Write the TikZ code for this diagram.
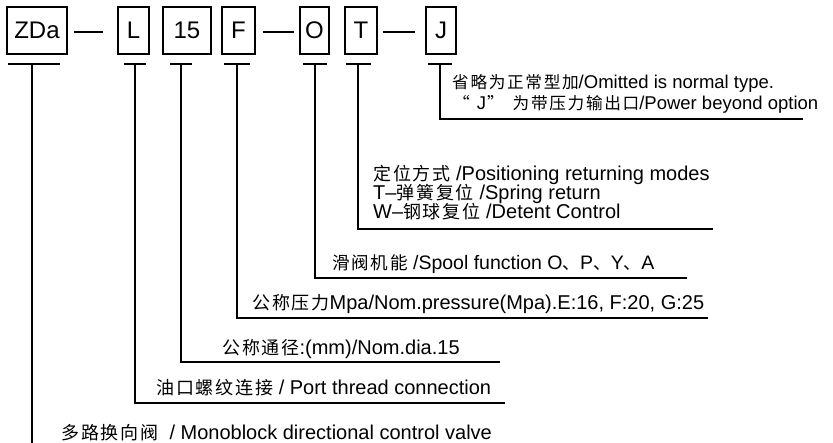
\documentclass[tikz,border=0pt]{standalone}
\usepackage{fontspec}
\setmainfont{Liberation Sans}
\newfontfamily\cjk[Scale=0.9, LetterSpace=10]{Noto Sans CJK SC}
\newcommand{\zh}[1]{{\cjk #1}}
\usetikzlibrary{positioning}

\begin{document}
\begin{tikzpicture}[x=1pt, y=-1pt,
    every node/.style={inner sep=0pt, font=\fontsize{20}{20}\selectfont},
    codebox/.style={draw, line width=1.1pt, minimum height=47pt, font=\fontsize{24}{24}\selectfont},
    lead/.style={line width=1.1pt},
    note/.style={anchor=base west, text height=13pt, text depth=3pt},
    small/.style={font=\fontsize{18.5}{18.5}\selectfont}
  ]
  \useasboundingbox (0,0) rectangle (833,443);
  \foreach \n/\cx/\w/\txt in {zda/37/60/ZDa, l/133.5/31/L, dia/187/48/15, f/238.5/33/F, o/314.5/29/O, t/361/32/T, j/441/30/J}{
    \node[codebox, minimum width=\w pt] (\n) at (\cx,30.5) {\txt};
  }
  \draw[lead] ([xshift=6pt,yshift=-1.5pt]zda.east) -- ([xshift=-14pt,yshift=-1.5pt]l.west);
  \draw[lead] ([xshift=7pt,yshift=-1.5pt]f.east) -- ([xshift=-5pt,yshift=-1.5pt]o.west);
  \draw[lead] ([xshift=5pt,yshift=-1.5pt]t.east) -- ([xshift=-10pt,yshift=-1.5pt]j.west);

  \coordinate (zda-top) at (32,64);
  \coordinate (zda-end) at (32,443);
  \draw[lead] ([xshift=-24pt]zda-top) -- ([xshift=28pt]zda-top);
  \draw[lead] (zda-top) -- (zda-end);
  \foreach \n/\sx/\ly/\ex/\hw in {l/135/403/505/11, dia/181/362/500/11, f/237/318/708/13, o/315/278/687/12, t/358/229/713/12.5, j/440/119/803/12}{
    \coordinate (\n-top) at (\sx,64);
    \coordinate (\n-end) at (\ex,\ly);
    \draw[lead] ([xshift=-\hw pt]\n-top) -- ([xshift=\hw pt]\n-top);
    \draw[lead] (\n-top) |- (\n-end);
  }

  \node[note, small] (j-note1) at (452,89) {\zh{省略为正常型加}/Omitted is normal type.};
  \node[note, small] (j-note2) at (453,110) {\zh{“}\hspace{7pt}J\hspace{1pt}\zh{”}\hspace{9pt}\zh{为带压力输出口}/Power beyond option};
  \node[note] (t-note1) at (373,180.5) {\zh{定位方式} /Positioning returning modes};
  \node[note] (t-note2) at (373,199.5) {T–\zh{弹簧复位} /Spring return};
  \node[note] (t-note3) at (373,218.7) {W–\zh{钢球复位} /Detent Control};
  \node[note, font=\fontsize{19.5}{19.5}\selectfont] (o-note) at (332,269.7) {\zh{滑阀机能} /Spool function O\zh{、}P\zh{、}Y\zh{、}A};
  \node[note] (f-note) at (252,309.7) {\zh{公称压力}Mpa/Nom.pressure(Mpa).E:16, F:20, G:25};
  \node[note] (dia-note) at (222,354.2) {\zh{公称通径}:(mm)/Nom.dia.15};
  \node[note] (l-note) at (156,394.2) {\zh{油口螺纹连接} / Port thread connection};
  \node[note] (zda-note) at (61,439.2) {\zh{多路换向阀}\ \ / Monoblock directional control valve};
\end{tikzpicture}
\end{document}
